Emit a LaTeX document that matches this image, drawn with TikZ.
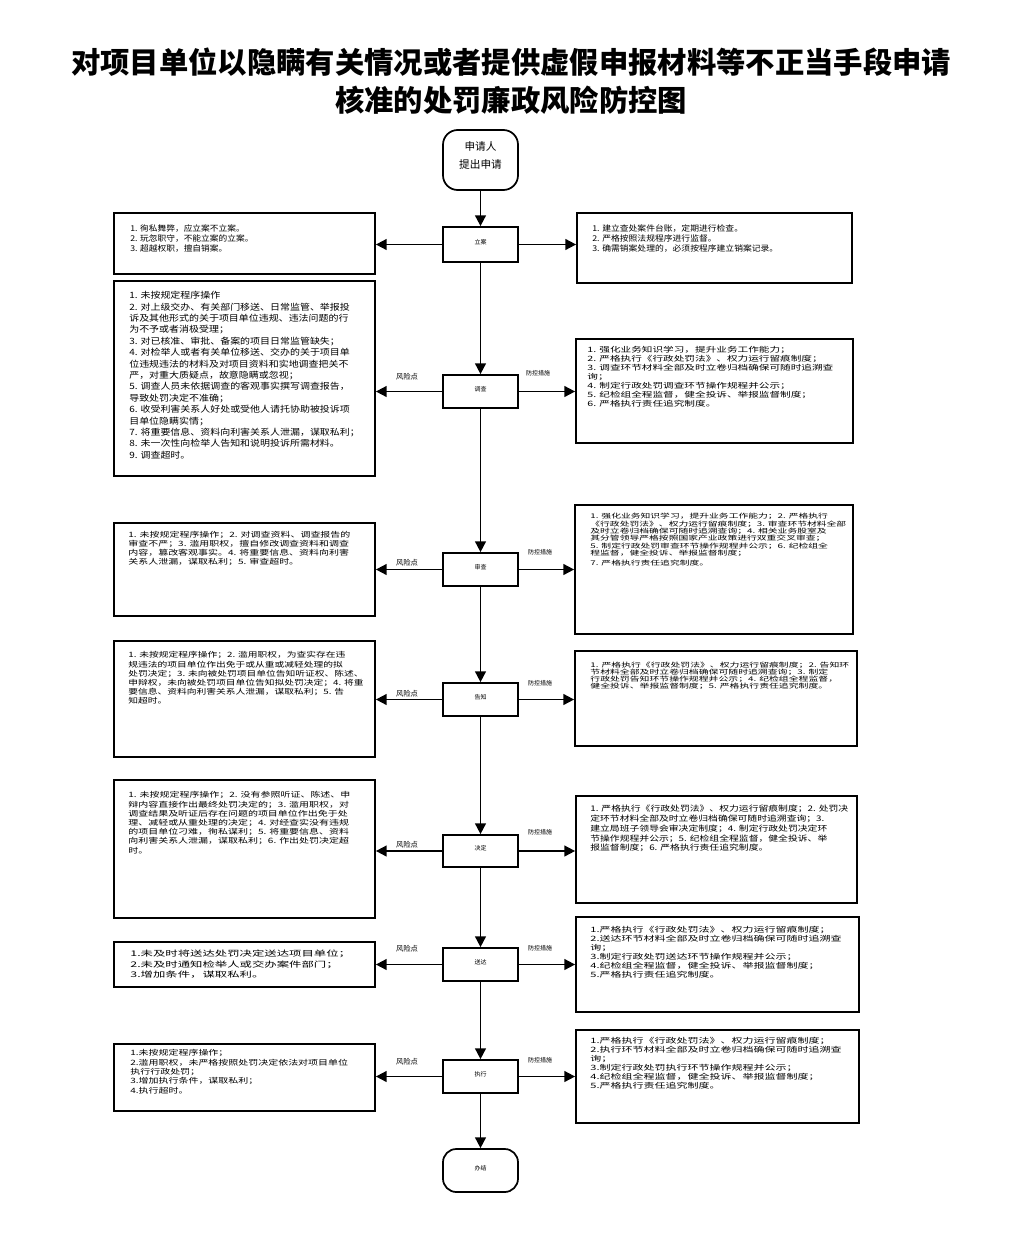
\documentclass[tikz,border=0pt]{standalone}
\usepackage{fontspec}
\setmainfont{Noto Sans CJK SC}
\usetikzlibrary{arrows.meta,fit}

\tikzset{
  box/.style={draw, line width=1.3pt, inner sep=0pt},
  stepbox/.style={draw, line width=1.3pt, inner sep=0pt, font=\fontsize{4.5}{5}\selectfont},
  endbox/.style={draw, line width=1.3pt, inner sep=0pt, rounded corners=11pt},
  txt/.style={anchor=north west, align=left, inner sep=0pt},
  flow/.style={line width=1.3pt, -{Triangle[length=8pt,width=8pt]}},
  risktag/.style={font=\fontsize{5.5}{6}\selectfont},
  ctrltag/.style={font=\fontsize{4.5}{5}\selectfont}
}

\begin{document}
\begin{tikzpicture}[x=0.75pt,y=-0.75pt]
  \fill[white] (0,0) rectangle (1022,1242);
  \useasboundingbox (0,0) rectangle (1022,1242);

  % Title
  \node[font=\bfseries\fontsize{22}{28.5}\selectfont, align=center] (title) at (511,81)
    {对项目单位以隐瞒有关情况或者提供虚假申报材料等不正当手段申请\\核准的处罚廉政风险防控图};

  % Start and end
  \node[endbox, fit={(443,130) (518,190)}, font=\fontsize{8}{13.5}\selectfont, align=center] (start) {申请人\\提出申请};
  \node[endbox, rounded corners=10pt, fit={(443,1149) (518,1192)}, font=\fontsize{4.5}{5}\selectfont] (finish) {办结};

  % Steps in the middle
  \node[stepbox, fit={(443,227) (518,262)}] (lian) {立案};
  \node[stepbox, fit={(443,375) (518,408)}] (diaocha) {调查};
  \node[stepbox, fit={(443,553) (518,586)}] (shencha) {审查};
  \node[stepbox, fit={(443,683) (518,716)}] (gaozhi) {告知};
  \node[stepbox, fit={(443,835) (518,867)}] (jueding) {决定};
  \node[stepbox, fit={(443,948) (518,981)}] (songda) {送达};
  \node[stepbox, fit={(443,1060) (518,1093)}] (zhixing) {执行};

  % Risk boxes (left)
  \node[box, fit={(114,213) (375,274)}] (risk1) {};
  \node[box, fit={(114,281) (375,476)}] (risk2) {};
  \node[box, fit={(114,523) (375,616)}] (risk3) {};
  \node[box, fit={(114,641) (375,757)}] (risk4) {};
  \node[box, fit={(114,780) (375,918)}] (risk5) {};
  \node[box, fit={(114,942) (375,987)}] (risk6) {};
  \node[box, fit={(114,1044) (375,1111)}] (risk7) {};

  % Control boxes (right)
  \node[box, fit={(577,213) (852,283)}] (ctrl1) {};
  \node[box, fit={(576,339) (853,443)}] (ctrl2) {};
  \node[box, fit={(575,505) (853,634)}] (ctrl3) {};
  \node[box, fit={(575,651) (857,746)}] (ctrl4) {};
  \node[box, fit={(576,796) (857,903)}] (ctrl5) {};
  \node[box, fit={(576,917) (859,1012)}] (ctrl6) {};
  \node[box, fit={(576,1030) (859,1123)}] (ctrl7) {};

  % Texts of the left boxes
  \node[txt, font=\fontsize{6}{7.5}\selectfont, xscale=1.09] (risk1t) at (130,224)
    {1. 徇私舞弊，应立案不立案。\\2. 玩忽职守，不能立案的立案。\\3. 超越权职，擅自销案。};
  \node[txt, font=\fontsize{6.5}{8.55}\selectfont, xscale=1.15] (risk2t) at (129,291)
    {1. 未按规定程序操作\\
     2. 对上级交办、有关部门移送、日常监管、举报投\\
     诉及其他形式的关于项目单位违规、违法问题的行\\
     为不予或者消极受理；\\
     3. 对已核准、审批、备案的项目日常监管缺失；\\
     4. 对检举人或者有关单位移送、交办的关于项目单\\
     位违规违法的材料及对项目资料和实地调查把关不\\
     严，对重大质疑点，故意隐瞒或忽视；\\
     5. 调查人员未依据调查的客观事实撰写调查报告，\\
     导致处罚决定不准确；\\
     6. 收受利害关系人好处或受他人请托协助被投诉项\\
     目单位隐瞒实情；\\
     7. 将重要信息、资料向利害关系人泄漏，谋取私利；\\
     8. 未一次性向检举人告知和说明投诉所需材料。\\
     9. 调查超时。};
  \node[txt, font=\fontsize{5.5}{6.75}\selectfont, xscale=1.36] (risk3t) at (128,531.5)
    {1. 未按规定程序操作；2. 对调查资料、调查报告的\\
     审查不严；3. 滥用职权，擅自修改调查资料和调查\\
     内容，篡改客观事实。4. 将重要信息、资料向利害\\
     关系人泄漏，谋取私利；5. 审查超时。};
  \node[txt, font=\fontsize{5.5}{6.9}\selectfont, xscale=1.33] (risk4t) at (128,651.5)
    {1. 未按规定程序操作；2. 滥用职权，为查实存在违\\
     规违法的项目单位作出免于或从重或减轻处理的拟\\
     处罚决定；3. 未向被处罚项目单位告知听证权、陈述、\\
     申辩权，未向被处罚项目单位告知拟处罚决定；4. 将重\\
     要信息、资料向利害关系人泄漏，谋取私利；5. 告\\
     知超时。};
  \node[txt, font=\fontsize{5.5}{6.9}\selectfont, xscale=1.36] (risk5t) at (128,791.5)
    {1. 未按规定程序操作；2. 没有参照听证、陈述、申\\
     辩内容直接作出最终处罚决定的；3. 滥用职权，对\\
     调查结果及听证后存在问题的项目单位作出免于处\\
     理、减轻或从重处理的决定；4. 对经查实没有违规\\
     的项目单位刁难，徇私谋利；5. 将重要信息、资料\\
     向利害关系人泄漏，谋取私利；6. 作出处罚决定超\\
     时。};
  \node[txt, font=\fontsize{5.8}{8.1}\selectfont, xscale=1.6] (risk6t) at (130,949.5)
    {1.未及时将送达处罚决定送达项目单位；\\2.未及时通知检举人或交办案件部门；\\3.增加条件，谋取私利。};
  \node[txt, font=\fontsize{5.5}{7}\selectfont, xscale=1.36] (risk7t) at (130,1049.5)
    {1.未按规定程序操作；\\
     2.滥用职权，未严格按照处罚决定依法对项目单位\\
     执行行政处罚；\\
     3.增加执行条件，谋取私利；\\
     4.执行超时。};

  % Texts of the right boxes
  \node[txt, font=\fontsize{6}{7.5}\selectfont, xscale=1.1] (ctrl1t) at (592,224)
    {1. 建立查处案件台账，定期进行检查。\\2. 严格按照法规程序进行监督。\\3. 确需销案处理的，必须按程序建立销案记录。};
  \node[txt, font=\fontsize{5.5}{6.75}\selectfont, xscale=1.45] (ctrl2t) at (587,346.5)
    {1. 强化业务知识学习，提升业务工作能力；\\
     2. 严格执行《行政处罚法》、权力运行留痕制度；\\
     3. 调查环节材料全部及时立卷归档确保可随时追溯查\\
     询；\\
     4. 制定行政处罚调查环节操作规程并公示；\\
     5. 纪检组全程监督，健全投诉、举报监督制度；\\
     6. 严格执行责任追究制度。};
  \node[txt, font=\fontsize{4.8}{5.5}\selectfont, xscale=1.53] (ctrl3t) at (590,513)
    {1. 强化业务知识学习，提升业务工作能力；2. 严格执行\\
     《行政处罚法》、权力运行留痕制度；3. 审查环节材料全部\\
     及时立卷归档确保可随时追溯查询；4. 相关业务股室及\\
     其分管领导严格按照国家产业政策进行双重交叉审查；\\
     5. 制定行政处罚审查环节操作规程并公示；6. 纪检组全\\
     程监督，健全投诉、举报监督制度；\\[2pt]
     7. 严格执行责任追究制度。};
  \node[txt, font=\fontsize{4.8}{5.3}\selectfont, xscale=1.54] (ctrl4t) at (590,662)
    {1. 严格执行《行政处罚法》、权力运行留痕制度；2. 告知环\\
     节材料全部及时立卷归档确保可随时追溯查询；3. 制定\\
     行政处罚告知环节操作规程并公示；4. 纪检组全程监督，\\
     健全投诉、举报监督制度；5. 严格执行责任追究制度。};
  \node[txt, font=\fontsize{5.8}{7.3}\selectfont, xscale=1.27] (ctrl5t) at (590,805)
    {1. 严格执行《行政处罚法》、权力运行留痕制度；2. 处罚决\\
     定环节材料全部及时立卷归档确保可随时追溯查询；3.\\
     建立局班子领导会审决定制度；4. 制定行政处罚决定环\\
     节操作规程并公示；5. 纪检组全程监督，健全投诉、举\\
     报监督制度；6. 严格执行责任追究制度。};
  \node[txt, font=\fontsize{5.5}{6.75}\selectfont, xscale=1.5] (ctrl6t) at (590,926.5)
    {1.严格执行《行政处罚法》、权力运行留痕制度；\\
     2.送达环节材料全部及时立卷归档确保可随时追溯查\\
     询；\\
     3.制定行政处罚送达环节操作规程并公示；\\
     4.纪检组全程监督，健全投诉、举报监督制度；\\
     5.严格执行责任追究制度。};
  \node[txt, font=\fontsize{5.5}{6.75}\selectfont, xscale=1.5] (ctrl7t) at (590,1037.5)
    {1.严格执行《行政处罚法》、权力运行留痕制度；\\
     2.执行环节材料全部及时立卷归档确保可随时追溯查\\
     询；\\
     3.制定行政处罚执行环节操作规程并公示；\\
     4.纪检组全程监督，健全投诉、举报监督制度；\\
     5.严格执行责任追究制度。};

  % Main line down the middle
  \draw[flow] (start) -- (lian);
  \draw[flow] (lian) -- (diaocha);
  \draw[flow] (diaocha) -- (shencha);
  \draw[flow] (shencha) -- (gaozhi);
  \draw[flow] (gaozhi) -- (jueding);
  \draw[flow] (jueding) -- (songda);
  \draw[flow] (songda) -- (zhixing);
  \draw[flow] (zhixing) -- (finish);

  % Arrows to both sides
  \foreach \s/\n in {lian/1, diaocha/2, shencha/3, gaozhi/4, jueding/5, songda/6, zhixing/7} {
    \draw[flow] (\s.west) -- (\s.west -| risk\n.east);
    \draw[flow] (\s.east) -- (\s.east -| ctrl\n.west);
  }

  % Labels on the arrows
  \node[risktag] (rtag2) at (407,377) {风险点};
  \node[risktag] (rtag3) at (407,563) {风险点};
  \node[risktag] (rtag4) at (407,694) {风险点};
  \node[risktag] (rtag5) at (407,845) {风险点};
  \node[risktag] (rtag6) at (407,949) {风险点};
  \node[risktag] (rtag7) at (407,1062) {风险点};
  \node[ctrltag] (ctag2) at (538,373) {防控措施};
  \node[ctrltag] (ctag3) at (540,552) {防控措施};
  \node[ctrltag] (ctag4) at (540,683) {防控措施};
  \node[ctrltag] (ctag5) at (540,832) {防控措施};
  \node[ctrltag] (ctag6) at (540,948) {防控措施};
  \node[ctrltag] (ctag7) at (540,1060) {防控措施};
\end{tikzpicture}
\end{document}
